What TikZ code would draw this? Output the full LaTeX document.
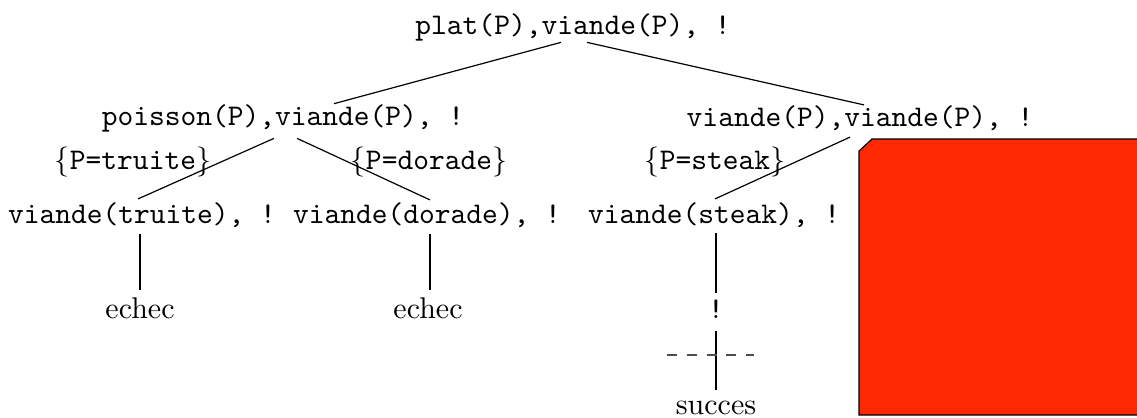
\documentclass[tikz,border=0pt]{standalone}
\usepackage{amsmath}
\usepackage{amssymb}
\usepackage{tikz}
\usetikzlibrary{calc,positioning}
\definecolor{cutred}{RGB}{255,40,0}

\begin{document}
\begin{tikzpicture}[
    x = 0.3333pt, % one unit per pixel
    y = -0.3333pt, % y grows downwards
    thin % line style
    ]

    \tikzset{
    clause/.style = {font=\ttfamily, inner sep=0pt},
    subst/.style = {inner sep=0pt},
    result/.style = {inner sep=0pt, anchor=base},
    cutline/.style = {draw=black!70, dash pattern=on 3.3pt off 3.3pt}
    }
    \useasboundingbox (0,0) rectangle (1137,417);

    \node[clause] (root) at (573,27) {plat(P),viande(P), !};
    \node[clause] (poisson) at (283,118) {poisson(P),viande(P), !};
    \node[clause] (vv) at (860,118) {viande(P),viande(P), !};
    \node[clause] (vt) at (142,215) {viande(truite), !};
    \node[clause] (vd) at (427,215) {viande(dorade), !};
    \node[clause] (vs) at (714,215) {viande(steak), !};

    \node[subst] (st) at (133,162) {$\{$\texttt{P=truite}$\}$};
    \node[subst] (sd) at (429,162) {$\{$\texttt{P=dorade}$\}$};
    \node[subst] (ss) at (715,162) {$\{$\texttt{P=steak}$\}$};

    \node[result] (echec1) at (140,318) {echec};
    \node[result] (echec2) at (428,318) {echec};
    \node[result, font=\ttfamily] (bang) at (716,318) {!};
    \node[result] (succes) at (716,414) {succes};

    \path ($(root.south)+(-12,1)$) edge ($(poisson.north)+(51,0)$);
    \path ($(root.south)+(14,1)$) edge ($(vv.north)+(4,0)$);
    \path ($(poisson.south)+(-9,6)$) edge ($(vt.north)+(-4,-3)$);
    \path ($(poisson.south)+(14,6)$) edge ($(vd.north)+(3,-2)$);
    \path ($(vv.south)+(-10,6)$) edge ($(vs.north)+(1,-3)$);

    \path ($(vt.south)+(-2,6)$) edge ($(echec1.north)+(0,-7)$);
    \path ($(vd.south)+(3,6)$) edge ($(echec2.north)+(2,-7)$);
    \path ($(vs.south)+(2,5)$) edge ($(bang.north)+(0,-6)$);
    \path ($(bang.south)+(0,12)$) edge ($(succes.north)+(0,-10)$);

    % cut
    \coordinate (cut) at (716,355);
    \draw[cutline] ($(cut)+(-49,0)$) -- ($(cut)+(38,0)$);

    \draw[fill=cutred] (859,151) -- (872,139) -- (1150,139) -- (1150,415) -- (859,415) -- cycle;
\end{tikzpicture}
\end{document}
